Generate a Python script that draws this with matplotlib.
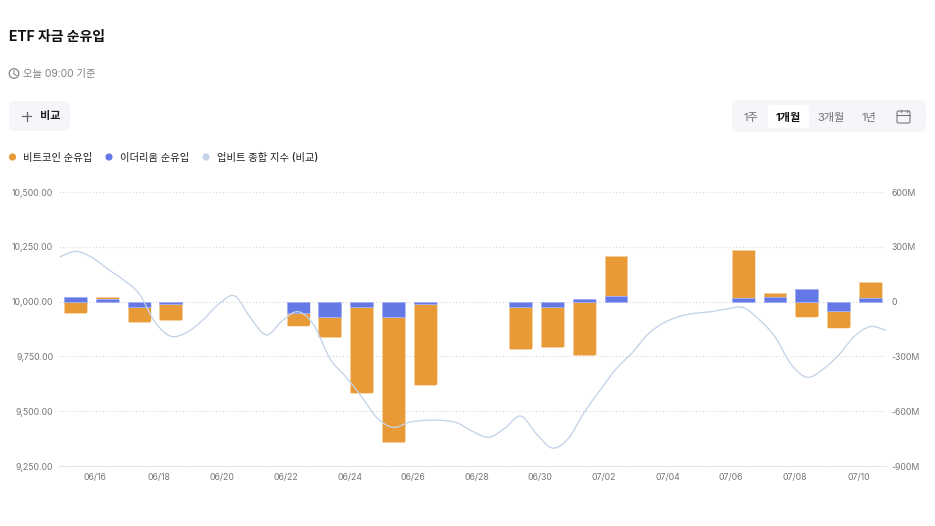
import numpy as np
import matplotlib
matplotlib.use("Agg")
import matplotlib.pyplot as plt
from matplotlib.patches import FancyBboxPatch, Circle, PathPatch
from matplotlib.path import Path

plt.rcParams["font.family"] = ["Inter", "Noto Sans CJK KR", "DejaVu Sans"]

# 일별 순유입 (백만 달러), 06/15 = 0일
days = [0, 1, 2, 3, 7, 8, 9, 10, 11, 14, 15, 16, 17, 21, 22, 23, 24, 25]
eth_flow = [25, 12, -29, -14, -65, -84, -29, -84, -14, -29, -29, 14, 29, 20, 24, 69, -49, 20]
btc_flow = [-62, 11, -82, -87, -66, -111, -470, -687, -441, -230, -220, -293, 222, 264, 25, -82, -93, 87]

# 업비트 종합 지수, 반나절 간격
index_x = [d / 2 for d in range(-1, 52)]
index_val = [10203, 10229, 10203, 10150, 10100, 10036, 9907, 9842, 9860, 9915, 9988,
             10026, 9927, 9848, 9912, 9954, 9892, 9740, 9657, 9566, 9467, 9426, 9450,
             9458, 9458, 9447, 9407, 9381, 9422, 9478, 9396, 9332, 9376, 9495, 9596,
             9693, 9765, 9851, 9903, 9933, 9947, 9954, 9967, 9973, 9918, 9839, 9715,
             9655, 9690, 9756, 9842, 9886, 9869]

date_days = [1, 3, 5, 7, 9, 11, 13, 15, 17, 19, 21, 23, 25]
date_labels = ["06/16", "06/18", "06/20", "06/22", "06/24", "06/26", "06/28",
               "06/30", "07/02", "07/04", "07/06", "07/08", "07/10"]
left_ticks = [9250, 9500, 9750, 10000, 10250, 10500]
left_labels = ["9,250.00", "9,500.00", "9,750.00", "10,000.00", "10,250.00", "10,500.00"]
right_ticks = [-900, -600, -300, 0, 300, 600]
right_labels = ["-900M", "-600M", "-300M", "0", "300M", "600M"]

ORANGE = "#E89A36"
BLUE = "#6579E6"
LINE = "#C3D3E8"
PANEL = "#F5F6FA"
W, H = 935, 526

fig = plt.figure(figsize=(W / 100, H / 100), dpi=100, facecolor="white")

# 차트 영역
ax = fig.add_axes([59 / W, 1 - 466 / H, 827 / W, 274 / H])
ax.set_xlim(-0.519, 25.49)
ax.set_ylim(-900, 600)
for s in ax.spines.values():
    s.set_visible(False)
ax.spines["bottom"].set_visible(True)
ax.spines["bottom"].set_color("#E3E5E8")
ax.set_axisbelow(True)
ax.set_xticks([d - 0.38 for d in date_days], date_labels)
ax.grid(axis="y", color="#D4D6DA", linestyle=(0, (1, 2)), linewidth=0.8)
ax.grid(axis="x", visible=False)

# 같은 방향이면 비트코인을 이더리움 위에 쌓는다
btc_bottom = [e if e * b > 0 else 0 for e, b in zip(eth_flow, btc_flow)]
bar_w = 0.72
bar_style = dict(width=bar_w, linewidth=0.7)
btc_bars = ax.bar(days, btc_flow, bottom=btc_bottom, color=ORANGE, edgecolor="#F4CF9C", **bar_style)
eth_bars = ax.bar(days, eth_flow, color=BLUE, edgecolor="#A3AFF0", **bar_style)

# 막대 끝 모서리만 둥글게: 쌓은 전체 범위로 클립한다
px_day = 827 / 26.009
px_m = 274 / 1500
corner = 2.5 / px_day
aspect = (1 / px_m) / (1 / px_day)
for btc_bar, eth_bar, e, b, base in zip(btc_bars, eth_bars, eth_flow, btc_flow, btc_bottom):
    top = max(0, e, base + b)
    low = min(0, e, base + b)
    # 한쪽으로만 뻗은 막대는 0 쪽을 넘겨 잡아 기준선 모서리를 각지게 둔다
    if low == 0:
        low = -30
    if top == 0:
        top = 30
    x0 = btc_bar.get_x() - 0.02
    clip = FancyBboxPatch((x0, low - 4), bar_w + 0.04, top - low + 8,
                          boxstyle=f"round,pad=0,rounding_size={corner}",
                          mutation_aspect=aspect, facecolor="none", edgecolor="none")
    ax.add_patch(clip)
    btc_bar.set_clip_path(clip)
    eth_bar.set_clip_path(clip)

# 지수 선: 읽은 점을 Catmull-Rom 베지어로 이어 그린다
ax2 = ax.twinx()
ax2.set_ylim(9250, 10500)
for s in ax2.spines.values():
    s.set_visible(False)
ax2.set_yticks(left_ticks, left_labels)

# twinx 뒤에 눈금 방향을 정한다: 왼쪽이 지수, 오른쪽이 순유입
ax.yaxis.tick_right()
ax.set_yticks(right_ticks, right_labels)
ax2.yaxis.tick_left()
ax.tick_params(axis="both", length=0, labelsize=6.3, labelcolor="#777777")
ax.tick_params(axis="y", pad=4.2)
ax.tick_params(axis="x", pad=5)
ax2.tick_params(axis="y", length=0, labelsize=6.3, labelcolor="#777777", pad=4.2)

pts = np.column_stack([index_x, index_val]).astype(float)
verts = [pts[0]]
codes = [Path.MOVETO]
for i in range(len(pts) - 1):
    p0 = pts[max(i - 1, 0)]
    p1 = pts[i]
    p2 = pts[i + 1]
    p3 = pts[min(i + 2, len(pts) - 1)]
    verts += [p1 + (p2 - p0) / 6, p2 - (p3 - p1) / 6, p2]
    codes += [Path.CURVE4] * 3
ax2.add_patch(PathPatch(Path(verts, codes), fill=False, edgecolor=LINE, linewidth=0.95))

# 상단 제목과 컨트롤, 픽셀 좌표로 배치
ui = fig.add_axes([0, 0, 1, 1], zorder=5)
ui.set_xlim(0, W)
ui.set_ylim(H, 0)
ui.axis("off")


def rounded(x0, y0, x1, y1, r, color):
    ui.add_patch(FancyBboxPatch((x0 + r, y0 + r), x1 - x0 - 2 * r, y1 - y0 - 2 * r,
                                boxstyle=f"round,pad={r},rounding_size={r}",
                                facecolor=color, edgecolor="none"))


ui.text(9, 36.5, "ETF 자금 순유입", fontsize=10, fontweight="bold", color="#111111", va="center")

ui.add_patch(Circle((14, 73.5), 4.8, fill=False, edgecolor="#777777", linewidth=0.8))
ui.plot([14, 14, 16.5], [70.5, 74, 75.5], color="#777777", linewidth=0.7)
ui.text(23, 74, "오늘 09:00 기준", fontsize=7.4, color="#808080", va="center")

rounded(9, 101, 70, 131, 6, PANEL)
ui.plot([22, 31], [116, 116], color="#666666", linewidth=0.9)
ui.plot([26.5, 26.5], [111.5, 120.5], color="#666666", linewidth=0.9)
ui.text(40, 116.5, "비교", fontsize=8, fontweight="bold", color="#222222", va="center")

rounded(732, 100, 926, 132, 6, PANEL)
rounded(768, 105, 809, 128, 3, "white")
ui.text(751, 117.5, "1주", fontsize=8, color="#707070", va="center", ha="center")
ui.text(788.5, 117.5, "1개월", fontsize=8, fontweight="bold", color="#111111", va="center", ha="center")
ui.text(831, 117.5, "3개월", fontsize=8, color="#707070", va="center", ha="center")
ui.text(869, 117.5, "1년", fontsize=8, color="#707070", va="center", ha="center")

# 달력 아이콘
ui.add_patch(FancyBboxPatch((897, 111), 13, 12, boxstyle="round,pad=0,rounding_size=1.5",
                            fill=False, edgecolor="#777777", linewidth=0.8))
ui.plot([897, 910], [114.5, 114.5], color="#777777", linewidth=0.8)
ui.plot([900.5, 900.5], [109.5, 112], color="#777777", linewidth=0.8)
ui.plot([906.5, 906.5], [109.5, 112], color="#777777", linewidth=0.8)

# 범례
legend_items = [(12.5, 23, ORANGE, "비트코인 순유입"),
                (109, 120, BLUE, "이더리움 순유입"),
                (206, 217, LINE, "업비트 종합 지수 (비교)")]
for dot_x, text_x, color, label in legend_items:
    ui.add_patch(Circle((dot_x, 157), 3.6, facecolor=color, edgecolor="none"))
    ui.text(text_x, 158, label, fontsize=7.4, fontweight="medium", color="#222222", va="center")

fig.savefig("out.png", dpi=100)
